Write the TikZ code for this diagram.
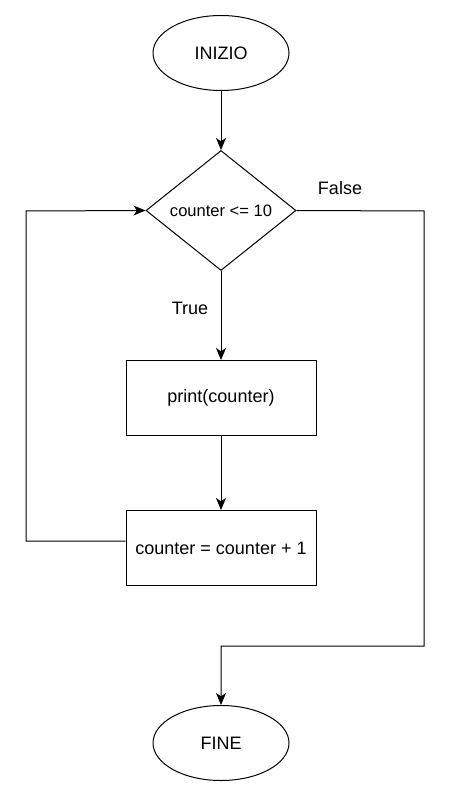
\documentclass[tikz,border=0pt]{standalone}
\usepackage{fontspec}
\setmainfont{Liberation Sans}
\usetikzlibrary{shapes.geometric,arrows.meta}
\begin{document}
\begin{tikzpicture}[x=0.75pt,y=-0.75pt,
  every node/.style={font=\fontsize{13.5}{15}\selectfont},
  base/.style={draw=black,line width=0.75pt,inner sep=0pt},
  term/.style={base,ellipse,minimum width=102pt,minimum height=56.25pt},
  proc/.style={base,rectangle,minimum width=142.5pt,minimum height=56.25pt},
  dec/.style={base,diamond,minimum width=112.5pt,minimum height=90pt,aspect=1.25,font=\fontsize{12.4}{14}\selectfont},
  conn/.style={line width=0.75pt,-{Stealth[length=9pt,width=7.5pt,inset=2.5pt]}},
  lbl/.style={inner sep=0pt}]
\useasboundingbox (0,0) rectangle (452,798);
\node[term] (start) at (221,53) {INIZIO};
\node[dec,shape aspect=1.25] (cond) at (221,210.5) {counter <= 10};
\node[proc] (print) at (221,398) {print(counter)};
\node[proc] (inc) at (221,548) {counter = counter + 1};
\node[term] (fine) at (221,743) {FINE};
\coordinate (l1) at (26,541);
\coordinate (l2) at (26,211);
\coordinate (r1) at (424,211);
\coordinate (r2) at (424,646);
\coordinate (r3) at (221,646);
\draw[conn] (start) -- (cond.north);
\draw[conn] (cond.south) -- (print.north);
\draw[conn] (print) -- (inc);
\draw[conn] (inc.west |- l1) -- (l1) -- (l2) -- (cond.west);
\draw[conn] (cond.east) -- (r1) -- (r2) -- (r3) -- (fine.north);
\node[lbl] (true) at (190,308) {True};
\node[lbl] (false) at (340,188) {False};
\end{tikzpicture}
\end{document}
